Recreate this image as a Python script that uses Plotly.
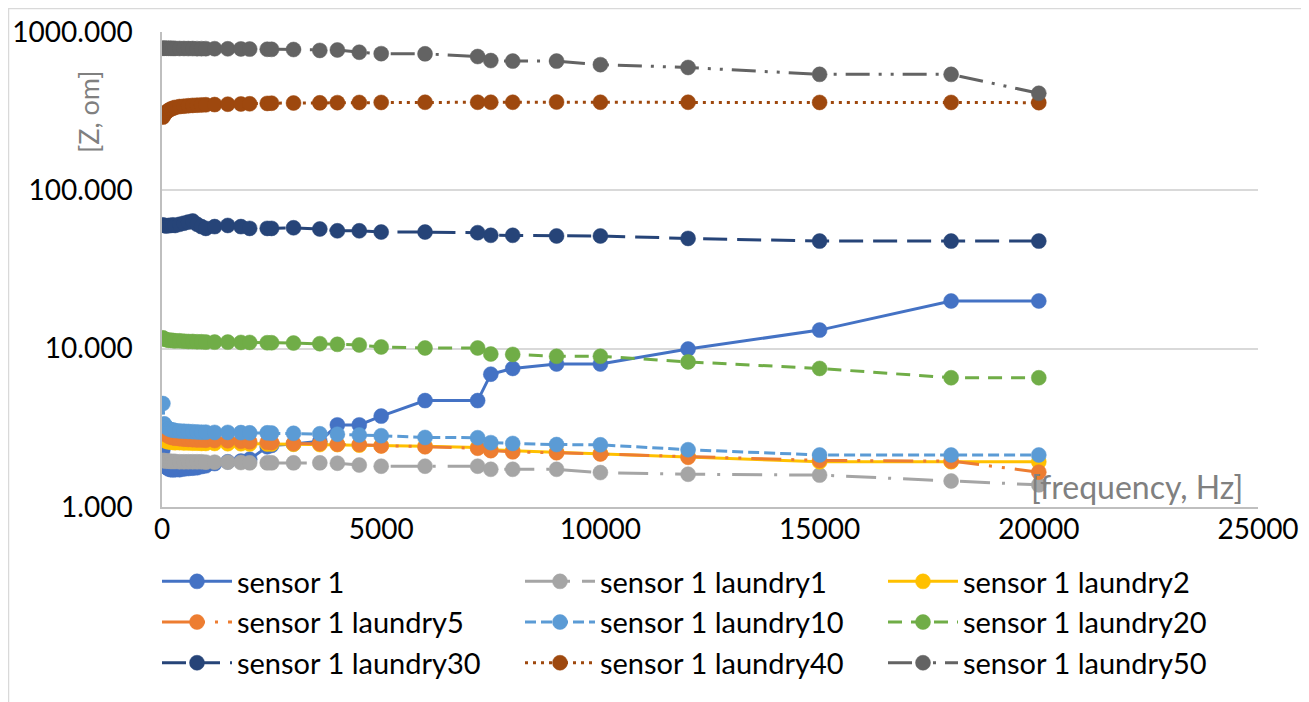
import plotly.graph_objects as go

freq = [20, 50, 100, 150, 200, 250, 300, 400, 500, 600, 700, 800, 900, 1000, 1200,
        1500, 1800, 2000, 2400, 2500, 3000, 3600, 4000, 4500, 5000, 6000, 7200, 7500,
        8000, 9000, 10000, 12000, 15000, 18000, 20000]

sensor1 = [2.30, 1.95, 1.78, 1.74, 1.72, 1.72, 1.72, 1.72, 1.74, 1.75, 1.76, 1.77, 1.80, 1.82, 1.88,
           1.93, 1.95, 2.00, 2.40, 2.45, 2.50, 2.60, 3.30, 3.30, 3.75, 4.70, 4.70, 6.90,
           7.50, 8.00, 8.00, 9.95, 13.1, 20.0, 20.0]
laundry1 = [1.97, 1.96, 1.95, 1.95, 1.94, 1.94, 1.94, 1.93, 1.93, 1.93, 1.93, 1.93, 1.93, 1.92, 1.92,
            1.92, 1.91, 1.90, 1.90, 1.90, 1.90, 1.90, 1.89, 1.84, 1.81, 1.81, 1.81, 1.73,
            1.73, 1.73, 1.65, 1.61, 1.59, 1.46, 1.38]
laundry2 = [2.71, 2.65, 2.60, 2.58, 2.57, 2.56, 2.55, 2.55, 2.54, 2.54, 2.53, 2.53, 2.52, 2.52, 2.52,
            2.51, 2.51, 2.50, 2.50, 2.50, 2.49, 2.48, 2.48, 2.46, 2.44, 2.42, 2.38, 2.30,
            2.27, 2.22, 2.18, 2.08, 1.93, 1.93, 1.93]
laundry5 = [3.15, 2.95, 2.85, 2.80, 2.76, 2.74, 2.72, 2.70, 2.68, 2.67, 2.66, 2.65, 2.65, 2.64, 2.63,
            2.62, 2.60, 2.58, 2.56, 2.55, 2.52, 2.51, 2.49, 2.48, 2.43, 2.40, 2.35, 2.27,
            2.23, 2.20, 2.16, 2.06, 1.97, 1.95, 1.66]
laundry10 = [4.50, 3.35, 3.20, 3.12, 3.08, 3.06, 3.04, 3.02, 3.01, 3.00, 2.99, 2.98, 2.97, 2.97, 2.96,
             2.96, 2.95, 2.94, 2.94, 2.93, 2.92, 2.90, 2.88, 2.85, 2.82, 2.75, 2.74, 2.55,
             2.52, 2.48, 2.47, 2.30, 2.13, 2.13, 2.13]
laundry20 = [11.7, 11.5, 11.4, 11.3, 11.3, 11.25, 11.2, 11.2, 11.15, 11.1, 11.1, 11.05, 11.05, 11.0, 11.0,
             11.0, 10.95, 10.95, 10.9, 10.9, 10.85, 10.75, 10.65, 10.55, 10.25, 10.1, 10.1, 9.25,
             9.2, 8.95, 8.95, 8.25, 7.5, 6.55, 6.55]
laundry30 = [60.5, 60.0, 59.5, 60.0, 60.0, 60.5, 60.0, 61.0, 62.0, 63.0, 64.0, 61.0, 59.0, 57.5, 59.0,
             60.0, 59.0, 57.5, 57.5, 57.5, 58.0, 57.0, 55.5, 55.5, 54.5, 54.5, 54.0, 52.0,
             52.0, 51.5, 51.5, 49.7, 47.8, 47.8, 47.8]
laundry40 = [290, 300, 312, 320, 326, 330, 334, 338, 340, 342, 344, 345, 346, 347, 348,
             350, 351, 352, 354, 355, 356, 357, 358, 359, 359, 360, 360, 360,
             360, 361, 360, 360, 359, 359, 358]
laundry50 = [790, 790, 790, 789, 789, 788, 788, 787, 787, 786, 786, 785, 785, 785, 784,
             783, 782, 780, 778, 777, 775, 765, 770, 745, 730, 728, 700, 660,
             655, 655, 622, 597, 540, 540, 410]

names = ["sensor 1", "sensor 1 laundry1", "sensor 1 laundry2", "sensor 1 laundry5",
         "sensor 1 laundry10", "sensor 1 laundry20", "sensor 1 laundry30",
         "sensor 1 laundry40", "sensor 1 laundry50"]
series = [sensor1, laundry1, laundry2, laundry5, laundry10, laundry20, laundry30, laundry40, laundry50]
colors = ["#4472C4", "#A5A5A5", "#FFC000", "#ED7D31", "#5B9BD5", "#70AD47", "#264478", "#9E480E", "#636363"]
dashes = ["solid", "30px,12px,3px,12px", "solid", "30px,10px,3px,10px,3px,10px",
          "11px,5px", "14px,9px", "24px,10px", "3px,5px", "24px,9px,3px,9px,3px,9px"]

FONT = "Lato"
# figure-pixel geometry of the plot area (page is offset by the 8px body margin)
L, R, T, B = 154, 1250, 24, 499
W, H = R - L, B - T

fig = go.Figure()
for name, ys, c, d in zip(names, series, colors, dashes):
    fig.add_trace(go.Scatter(
        x=freq, y=ys, name=name, mode="lines+markers",
        line=dict(color=c, width=3, dash=d),
        marker=dict(color=c, size=15, symbol="circle", line=dict(color=c, width=0.5)),
    ))

fig.update_layout(
    width=1301, height=694,
    margin=dict(l=L, r=1301 - R, t=T, b=694 - B, autoexpand=False),
    paper_bgcolor="white", plot_bgcolor="white",
    font=dict(family=FONT, size=28, color="black"),
    showlegend=True,
    legend=dict(orientation="h", x=(149 - L) / W, xanchor="left", y=(B - 548) / H, yanchor="top",
                itemwidth=70, entrywidth=278, entrywidthmode="pixels",
                font=dict(family=FONT, size=29, color="black"),
                bgcolor="rgba(0,0,0,0)", traceorder="normal"),
    xaxis=dict(range=[0, 25000], tickvals=[0, 5000, 10000, 15000, 20000, 25000],
               ticktext=["0", "5000", "10000", "15000", "20000", "25000"],
               showgrid=False, zeroline=False, showline=True, linecolor="#BFBFBF", linewidth=1.5,
               ticks="", ticklabelstandoff=-3, tickfont=dict(family=FONT, size=28, color="black")),
    yaxis=dict(type="log", range=[0, 3], tickvals=[1, 10, 100, 1000],
               ticktext=["1.000", "10.000", "100.000", "1000.000"],
               showgrid=True, gridcolor="#D9D9D9", gridwidth=1.5, zeroline=False,
               showline=True, linecolor="#BFBFBF", linewidth=1.5,
               ticks="", ticklabelstandoff=22, tickfont=dict(family=FONT, size=28, color="black")),
    annotations=[
        dict(text="[Z, om]", xref="paper", yref="paper", x=(81 - L) / W, y=(B - 104) / H,
             xanchor="center", yanchor="middle",
             showarrow=False, textangle=-90, font=dict(family=FONT, size=27, color="#808080")),
        dict(text="[frequency, Hz]", xref="paper", yref="paper", x=(1129 - L) / W, y=(B - 478) / H,
             xanchor="center", yanchor="middle",
             showarrow=False, font=dict(family=FONT, size=32, color="#808080")),
    ],
    shapes=[dict(type="rect", xref="paper", yref="paper",
                 x0=(0.5 - L) / W, x1=(1330 - L) / W,
                 y0=(B - 720) / H, y1=(B - 0.5) / H,
                 line=dict(color="#D9D9D9", width=1.5), layer="below")],
)

fig.write_html("out.html")
